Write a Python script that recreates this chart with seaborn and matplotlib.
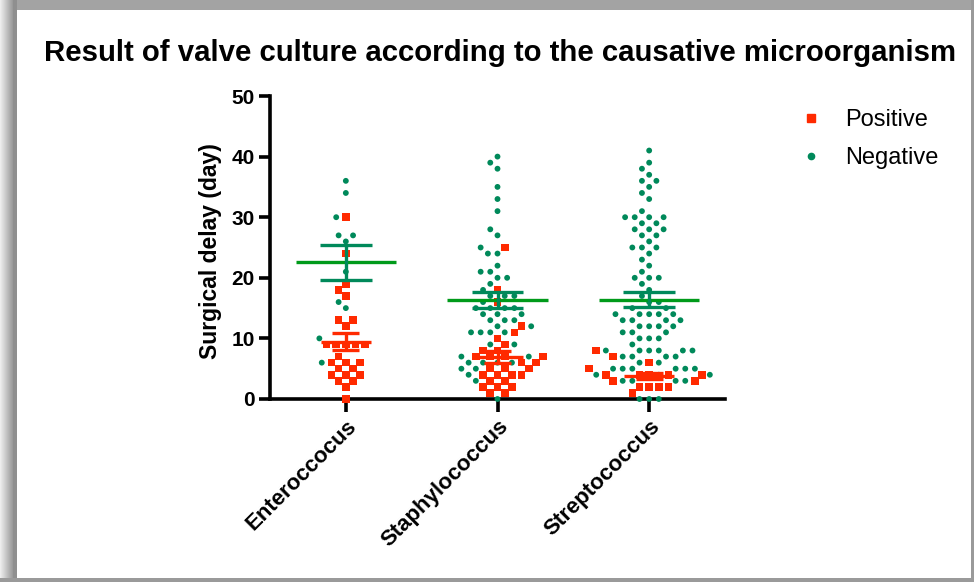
import numpy as np
import pandas as pd
import matplotlib
matplotlib.use("Agg")
import matplotlib.pyplot as plt
import seaborn as sns
from matplotlib.markers import MarkerStyle
from matplotlib.patches import Rectangle
from matplotlib.lines import Line2D

# ---------------- data ----------------
categories = ["Enteroccocus", "Staphylococcus", "Streptococcus"]
cultures = ["Positive", "Negative"]

entero_positive = [30, 24, 19, 18, 17, 13, 13, 12, 9, 9, 9, 9, 9, 7, 6, 6, 6,
                   5, 5, 4, 4, 4, 3, 3, 2, 0]
entero_negative = [36, 34, 30, 27, 27, 26, 21, 16, 15, 10, 6]

staph_positive = [25, 18, 16, 12, 11, 10, 9, 8, 8, 7, 7, 7, 7, 6, 6, 5, 5, 5,
                  4, 4, 4, 4, 3, 3, 2, 2, 2, 1, 1]
staph_negative = [40, 39, 38, 35, 33, 31, 28, 27, 25, 24, 24, 22, 21, 21, 20,
                  20, 19, 18, 17, 17, 17, 16, 15, 15, 15, 15, 14, 14, 14, 13,
                  13, 13, 12, 12, 11, 11, 11, 11, 9, 9, 7, 7, 6, 6, 6, 6, 5, 5,
                  4, 3, 0]

strep_positive = [8, 7, 6, 5, 4, 4, 4, 4, 4, 3, 3, 2, 2, 2, 2, 1]
strep_negative = [41, 39, 38, 37, 36, 36, 35, 34, 33, 31, 30, 30, 30, 30, 29,
                  29, 28, 28, 28, 27, 27, 26, 25, 25, 25, 24, 23, 22, 21, 20,
                  20, 20, 19, 18, 17, 16, 16, 15, 15, 14, 14, 14, 14, 14, 13,
                  13, 13, 13, 12, 12, 12, 12, 11, 11, 11, 10, 10, 10, 9, 8, 8,
                  8, 8, 8, 8, 7, 7, 7, 7, 6, 6, 5, 5, 5, 5, 5, 5, 4, 4, 4, 3,
                  3, 3, 3, 0, 0, 0]

y_ticks = [0, 10, 20, 30, 40, 50]
title = "Result of valve culture according to the causative microorganism"
y_label = "Surgical delay (day)"

# ---------------- tidy table ----------------
groups = {
    ("Enteroccocus", "Positive"): entero_positive,
    ("Enteroccocus", "Negative"): entero_negative,
    ("Staphylococcus", "Positive"): staph_positive,
    ("Staphylococcus", "Negative"): staph_negative,
    ("Streptococcus", "Positive"): strep_positive,
    ("Streptococcus", "Negative"): strep_negative,
}
rows = []
for (org, cult), vals in groups.items():
    for v in vals:
        rows.append({"organism": org, "culture": cult, "delay": v})
df = pd.DataFrame(rows)

# ---------------- style ----------------
RED = "#FF2A00"
GREEN = "#00895A"
GREEN_MEAN = "#009A1A"

sns.set_style("ticks")
plt.rcParams["font.family"] = ["Liberation Sans", "DejaVu Sans"]
for key in ["text.color", "axes.labelcolor", "xtick.color", "ytick.color",
            "xtick.labelcolor", "ytick.labelcolor"]:
    plt.rcParams[key] = "black"

W, H = 974, 582
fig = plt.figure(figsize=(W / 100, H / 100), dpi=100)
fig.patch.set_facecolor("white")


def px_rect(x, y, w, h, color):
    fig.add_artist(Rectangle((x / W, 1 - (y + h) / H), w / W, h / H,
                             transform=fig.transFigure, color=color,
                             lw=0, zorder=-10))


# grey frame with soft shadow
px_rect(0, 0, W, 10, "#a3a3a3")
for i, g in enumerate(np.linspace(0.93, 0.58, 14)):
    px_rect(i, 0, 1.2, H, str(g))
px_rect(13, 0, 4, H, "#8f8f8f")
px_rect(W - 3, 0, 3, H, "#9a9a9a")
px_rect(0, H - 4, W, 4, "#9a9a9a")

ax = fig.add_axes([270 / W, 1 - 399 / H, 455 / W, 303 / H])

sns.swarmplot(data=df, x="organism", y="delay", hue="culture",
              order=categories, hue_order=cultures,
              palette=[RED, GREEN], size=4.2, linewidth=2.4,
              edgecolor="none", legend=False, ax=ax)

# turn positive points into squares, negatives stay circles
m_sq = MarkerStyle("s")
sq_path = m_sq.get_path().transformed(m_sq.get_transform().scale(1.3))
m_c = MarkerStyle("o")
c_path = m_c.get_path().transformed(m_c.get_transform())
for coll in ax.collections:
    fc = coll.get_facecolors()
    if len(fc) == 0:
        continue
    is_red = fc[:, 0] > 0.5
    coll.set_paths([sq_path if r else c_path for r in is_red])
    coll.set_edgecolor("none")
    coll.set_clip_on(False)
    coll.set_zorder(3)

# mean +/- SEM
stats = df.groupby(["organism", "culture"])["delay"].agg(["mean", "sem"])
line_specs = {
    "Negative": dict(half_mean=0.33, half_cap=0.17, mcol=GREEN_MEAN, ccol=GREEN),
    "Positive": dict(half_mean=0.165, half_cap=0.09, mcol=RED, ccol=RED),
}
for i, cat in enumerate(categories):
    for cult in ["Negative", "Positive"]:
        sp = line_specs[cult]
        m, s = stats.loc[(cat, cult), "mean"], stats.loc[(cat, cult), "sem"]
        ax.hlines(m, i - sp["half_mean"], i + sp["half_mean"],
                  color=sp["mcol"], lw=2.4, zorder=4)
        ax.hlines([m - s, m + s], i - sp["half_cap"], i + sp["half_cap"],
                  color=sp["ccol"], lw=2.4, zorder=4)
        ax.vlines(i, m - s, m + s, color=sp["ccol"], lw=2.4, zorder=4)

ax.set_xlim(-0.5, 2.5)
ax.set_ylim(0, 50)
ax.set_yticks(y_ticks)
ax.set_xlabel("")
ax.set_ylabel("")
sns.despine(ax=ax)
for sp in ["left", "bottom"]:
    ax.spines[sp].set_linewidth(2.6)
    ax.spines[sp].set_color("black")
ax.tick_params(axis="y", length=8, width=2.6, pad=3, labelsize=15,
               color="black")
ax.tick_params(axis="x", length=9, width=2.6, pad=3, labelsize=16,
               color="black")
for lab in ax.get_yticklabels():
    lab.set_fontweight("bold")
ax.set_xticks(range(len(categories)))
ax.set_xticklabels(categories, rotation=45, ha="right",
                   rotation_mode="anchor", fontweight="bold", fontsize=16)

fig.text(0.513, 1 - 53 / H, title, ha="center", va="center",
         fontsize=21.2, fontweight="bold")
fig.text(210 / W, 1 - 251 / H, y_label, rotation=90, ha="center",
         va="center", fontsize=16.5, fontweight="bold")

handles = [Line2D([], [], marker="s", color=RED, ls="none", markersize=6),
           Line2D([], [], marker="o", color=GREEN, ls="none", markersize=4.5)]
fig.legend(handles, cultures, loc="upper left",
           bbox_to_anchor=(778 / W, 1 - 88 / H), frameon=False,
           fontsize=17, handlelength=1.0, handletextpad=0.94,
           labelspacing=0.66)

fig.savefig("out.png", dpi=100, facecolor=fig.get_facecolor())
